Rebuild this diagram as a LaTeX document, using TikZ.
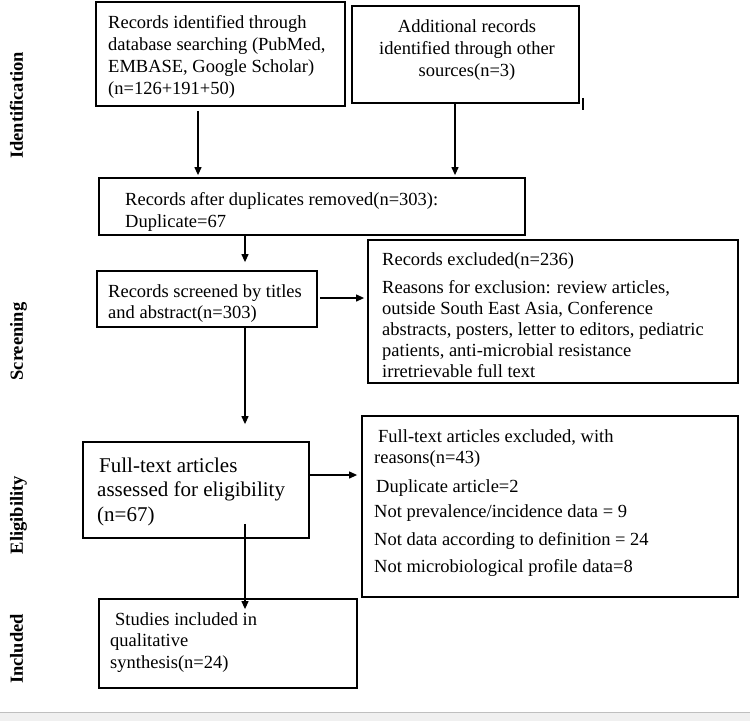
\documentclass[tikz,border=0pt]{standalone}
\usepackage{fontspec}
\setmainfont{Liberation Serif}
\usetikzlibrary{arrows.meta}
\begin{document}
\begin{tikzpicture}[x=1pt,y=-1pt,
  box/.style={draw, line width=1.8pt, inner sep=0pt},
  txt/.style={inner sep=0pt, anchor=north west, align=left, font=\fontsize{18.5}{22}\selectfont},
  txtc/.style={inner sep=0pt, anchor=north, align=center, font=\fontsize{18.5}{22}\selectfont},
  arr/.style={line width=1.2pt, -{Triangle[length=8pt,width=7pt]}},
  side/.style={rotate=90, anchor=base, inner sep=0pt, font=\fontsize{18.5}{22}\selectfont\bfseries}]
\useasboundingbox (0,0) rectangle (750,721);
\fill[white] (0,0) rectangle (750,721);
\fill[black!6] (0,712) rectangle (750,721);
\draw[black!25, line width=1pt] (0,712) -- (750,712);

% boxes
\node[box, minimum width=249pt, minimum height=104pt] (b1) at (220.5,54) {};
\node[box, minimum width=227pt, minimum height=97pt] (b2) at (465.5,54.5) {};
\node[box, minimum width=426pt, minimum height=57pt] (b3) at (312,206.5) {};
\node[box, minimum width=220pt, minimum height=56pt] (b4) at (207,299) {};
\node[box, minimum width=370pt, minimum height=143pt] (b5) at (553,311.5) {};
\node[box, minimum width=226pt, minimum height=96pt] (b6) at (196,490) {};
\node[box, minimum width=376pt, minimum height=181pt] (b7) at (550,506.5) {};
\node[box, minimum width=258pt, minimum height=89pt] (b8) at (228,643.5) {};

% texts (north = first baseline - 0.7 baselineskip)
\node[txt] (t1) at (108,12.6) {\strut Records identified through\\database searching (PubMed,\\EMBASE, Google Scholar)\\(n=126+191+50)};
\node[txtc] (t2) at (467,16.6) {\strut Additional records\\identified through other\\sources(n=3)};
\node[txt] (t3) at (125,189.6) {\strut Records after duplicates removed(n=303):\\Duplicate=67};
\node[txt, font=\fontsize{18.5}{21.5}\selectfont] (t4) at (108,281.95) {\strut Records screened by titles\\and abstract(n=303)};
\node[txt, font=\fontsize{18.5}{21}\selectfont] (t5) at (382,250.3) {\strut Records excluded(n=236)\\[7pt]Reasons for exclusion: review articles,\\outside South East Asia, Conference\\abstracts, posters, letter to editors, pediatric\\patients, anti-microbial resistance\\irretrievable full text};
\node[txt, font=\fontsize{21}{24.5}\selectfont] (t6) at (97,454.85) {\strut\hspace{2pt}Full-text articles\\assessed for eligibility\\(n=67)};
\node[txt, font=\fontsize{18.5}{21.5}\selectfont] (t7) at (374,426.95) {\strut\hspace{4pt}Full-text articles excluded, with\\reasons(n=43)\\[7pt]\hspace{2pt}Duplicate article=2\\[4pt]Not prevalence/incidence data = 9\\[6pt]Not data according to definition = 24\\[6pt]Not microbiological profile data=8};
\node[txt, font=\fontsize{18.5}{21.5}\selectfont] (t8) at (110,609.95) {\strut\hspace{5pt}Studies included in\\qualitative\\synthesis(n=24)};

% side labels
\node[side] (s1) at (23,105.5) {Identification};
\node[side] (s2) at (23,341.5) {Screening};
\node[side] (s3) at (23,515) {Eligibility};
\node[side] (s4) at (23,649) {Included};

% connectors
\coordinate (xa) at (198,0);
\coordinate (xb) at (455,0);
\coordinate (xc) at (245,0);
\coordinate (ya) at (0,298);
\coordinate (yb) at (0,475);
\draw[arr, shorten <=4pt, shorten >=2pt] (b1.south -| xa) -- (b3.north -| xa);
\draw[arr, shorten >=2pt] (b2.south -| xb) -- (b3.north -| xb);
\draw[arr, shorten >=8pt] (b3.south -| xc) -- (b4.north -| xc);
\draw[arr, shorten <=2pt, shorten >=3pt] (b4.east |- ya) -- (b5.west |- ya);
\draw[arr, shorten >=17pt] (b4.south -| xc) -- (b6.north -| xc);
\draw[arr, shorten >=4pt] (b6.east |- yb) -- (b7.west |- yb);
\draw[arr, shorten <=-15pt, shorten >=-11pt] (b6.south -| xc) -- (b8.north -| xc);
\draw[line width=1.2pt] ([xshift=3pt,yshift=6pt]b2.south east) -- ([xshift=3pt,yshift=-6pt]b2.south east);
\end{tikzpicture}
\end{document}
